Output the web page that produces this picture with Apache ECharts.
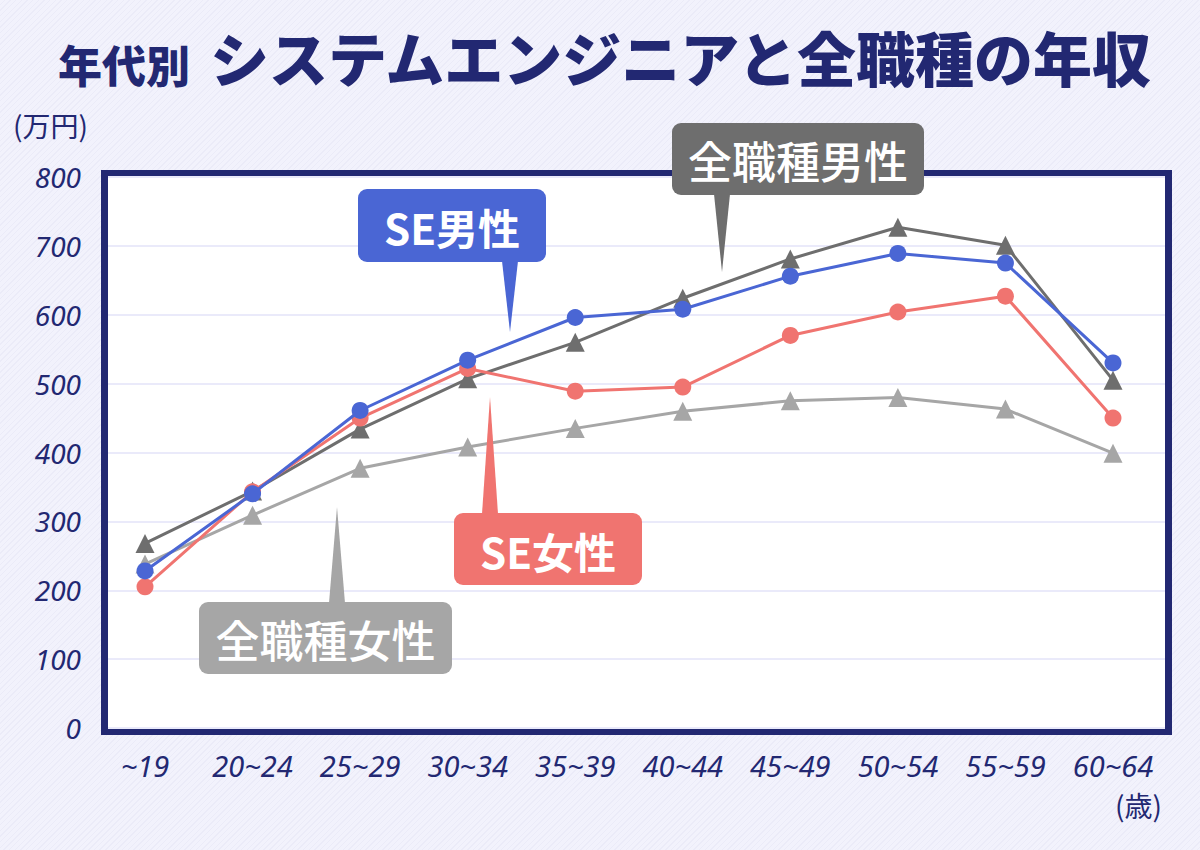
<!DOCTYPE html>
<html>
<head>
<meta charset="utf-8">
<script src="https://cdn.jsdelivr.net/npm/echarts@6/dist/echarts.min.js"></script>
<style>
html,body{margin:0;padding:0;}
body{width:1200px;height:850px;background:#f0f0fb;
background-image:repeating-linear-gradient(135deg,#f2f2fc 0px,#f2f2fc 3px,#ebebf8 3px,#ebebf8 4px);}
#c{width:1200px;height:850px;}
</style>
</head>
<body>
<div id="c"></div>
<script>
const categories = ['~19','20~24','25~29','30~34','35~39','40~44','45~49','50~54','55~59','60~64'];
const yTicks = [0,100,200,300,400,500,600,700,800];
const seMale     = [228, 340, 461, 534, 596, 608, 656, 689, 675, 530];
const seFemale   = [205, 343, 450, 522, 489, 495, 570, 604, 627, 450];
const allMale    = [268, 344, 434, 507, 560, 624, 681, 727, 701, 505];
const allFemale  = [238, 309, 377, 408, 435, 460, 475, 480, 463, 399];

const NAVY = '#222872';
const BLUE = '#4a66d4';
const RED = '#f07470';
const DGRAY = '#6e6e6e';
const LGRAY = '#a6a6a6';
const JP = '"Noto Sans CJK JP","Noto Sans",sans-serif';
const NUM = '"Noto Sans","Open Sans",sans-serif';

const chart = echarts.init(document.getElementById('c'), null, {renderer:'svg'});

function callout(box, tip, base, color, text, fontSize, fontWeight){
  const [x,y,w,h] = box;
  return {
    type:'group', z:100, zlevel:1, children:[
      {type:'polygon', z:100, zlevel:1, shape:{points:[[base[0]-8, base[1]],[base[0]+8, base[1]],[tip[0],tip[1]]]}, style:{fill:color}},
      {type:'rect', z:101, zlevel:1, shape:{x:x,y:y,width:w,height:h,r:9}, style:{fill:color}},
      {type:'text', z:102, zlevel:1, x:x+w/2, y:y+h/2+1, style:{text:text, fill:'#fff', font: fontWeight+' '+fontSize+'px '+JP, textAlign:'center', textVerticalAlign:'middle'}}
    ]
  };
}

const series = [
  {name:'全職種女性', data:allFemale, color:LGRAY, symbol:'triangle', size:19},
  {name:'全職種男性', data:allMale, color:DGRAY, symbol:'triangle', size:19},
  {name:'SE女性', data:seFemale, color:RED, symbol:'circle', size:17},
  {name:'SE男性', data:seMale, color:BLUE, symbol:'circle', size:17}
].map((s,i)=>({
  type:'line', name:s.name, data:s.data, xAxisIndex:2, yAxisIndex:2,
  symbol:s.symbol, symbolSize:s.size, showAllSymbol:true,
  lineStyle:{color:s.color, width:3}, itemStyle:{color:s.color},
  z:10+i, animation:false
}));

chart.setOption({
  backgroundColor:'transparent',
  animation:false,
  title:[
    {text:'年代別', left:53, top:37, textStyle:{fontFamily:JP, fontSize:44, fontWeight:900, color:NAVY}},
    {text:'システムエンジニアと全職種の年収', left:205, top:22, textStyle:{fontFamily:JP, fontSize:59, fontWeight:900, color:NAVY}}
  ],
  grid:[
    {left:104.5, right:31.5, top:173.5, bottom:118.5, show:true, backgroundColor:'#ffffff', borderColor:NAVY, borderWidth:7, z:0},
    {left:108, right:35, top:177, bottom:122, z:1},
    {left:145, right:87, top:177, bottom:122, z:2}
  ],
  xAxis:[
    {gridIndex:0, type:'category', data:categories, show:false},
    {gridIndex:1, type:'category', data:categories, show:false},
    {gridIndex:2, type:'category', data:categories, boundaryGap:false,
     axisLine:{show:false}, axisTick:{show:false}, splitLine:{show:false},
     axisLabel:{margin:23, fontFamily:NUM, fontStyle:'italic', fontSize:29, color:NAVY, interval:0}}
  ],
  yAxis:[
    {gridIndex:0, type:'value', show:false, min:0, max:800},
    {gridIndex:1, type:'value', min:yTicks[0], max:yTicks[yTicks.length-1], interval:100,
     axisLine:{show:false}, axisTick:{show:false},
     splitLine:{show:true, lineStyle:{color:'#eaeafa', width:2}},
     axisLabel:{margin:27, fontFamily:NUM, fontStyle:'italic', fontSize:28, color:NAVY}},
    {gridIndex:2, type:'value', show:false, min:0, max:800, interval:100, splitLine:{show:false}}
  ],
  series:series,
  graphic:[
    {type:'text', left:13, top:111, style:{text:'(万円)', font:'400 28px '+JP, fill:NAVY}, z:50},
    {type:'text', right:38, top:791, style:{text:'(歳)', font:'400 28px '+JP, fill:NAVY}, z:50},
    callout([672,123,252,72],[722,272],[722,194],DGRAY,'全職種男性',44,500),
    callout([358,189,188,73],[510,332],[510,261],BLUE,'SE男性',42,700),
    callout([454,513,188,72],[490,397],[490,514],RED,'SE女性',42,700),
    callout([199,602,253,72],[337,507],[337,603],LGRAY,'全職種女性',44,500)
  ]
});
</script>
</body>
</html>
